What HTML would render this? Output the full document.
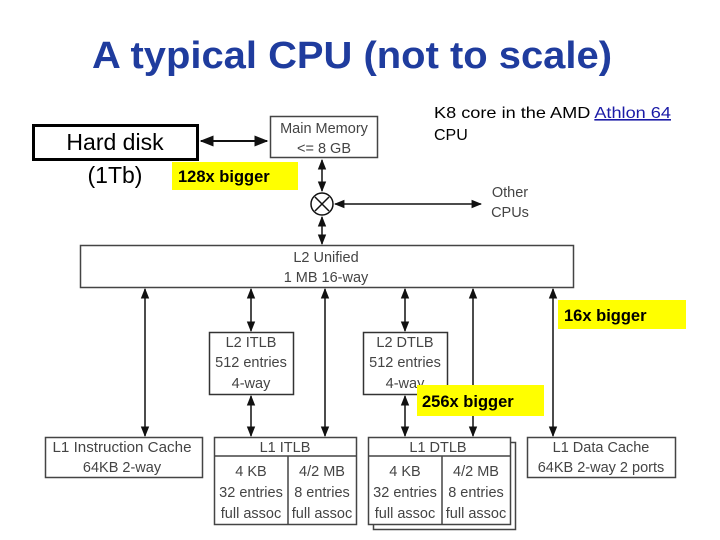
<!DOCTYPE html>
<html><head><meta charset="utf-8"><style>
html,body{margin:0;padding:0;background:#fff;}
svg{display:block;}
.g{font-family:"Liberation Sans",sans-serif;font-size:14.5px;fill:#444;text-anchor:middle;}
</style></head><body>
<svg width="720" height="540" viewBox="0 0 720 540" xmlns="http://www.w3.org/2000/svg">
<defs>
<marker id="a" viewBox="0 0 10 10" refX="9" refY="5" markerWidth="7" markerHeight="7" orient="auto-start-reverse"><path d="M0,1 L10,5 L0,9 z" fill="#111"/></marker>
</defs>
<text x="92" y="68" font-family="Liberation Sans,sans-serif" font-size="38" font-weight="bold" fill="#1f3c9e" textLength="520" lengthAdjust="spacingAndGlyphs">A typical CPU (not to scale)</text>

<rect x="33.5" y="125.5" width="164" height="34" fill="#fff" stroke="#000" stroke-width="3"/>
<text x="115" y="150" font-family="Liberation Sans,sans-serif" font-size="23" text-anchor="middle">Hard disk</text>
<text x="115" y="183" font-family="Liberation Sans,sans-serif" font-size="23" text-anchor="middle">(1Tb)</text>
<line x1="201" y1="141" x2="267" y2="141" stroke="#111" stroke-width="2" marker-start="url(#a)" marker-end="url(#a)"/>

<rect x="270.5" y="116.5" width="107" height="41" fill="#fff" stroke="#444" stroke-width="1.5"/>
<text class="g" x="324" y="133">Main Memory</text>
<text class="g" x="324" y="153">&lt;= 8 GB</text>
<rect x="172" y="162" width="126" height="28" fill="#ffff00"/>
<text x="178" y="182" font-family="Liberation Sans,sans-serif" font-size="16.5" font-weight="bold">128x bigger</text>

<text x="434" y="118" font-family="Liberation Sans,sans-serif" font-size="16" textLength="237" lengthAdjust="spacingAndGlyphs">K8 core in the AMD <tspan fill="#1a1aa6" text-decoration="underline">Athlon 64</tspan></text>
<text x="434" y="140" font-family="Liberation Sans,sans-serif" font-size="16">CPU</text>

<line x1="322" y1="160" x2="322" y2="191" stroke="#111" stroke-width="1.5" marker-start="url(#a)" marker-end="url(#a)"/>
<circle cx="322" cy="204" r="11" fill="#fff" stroke="#111" stroke-width="1.5"/>
<path d="M315,197 L329,211 M329,197 L315,211" stroke="#111" stroke-width="1.5"/>
<line x1="335" y1="204" x2="481" y2="204" stroke="#111" stroke-width="1.5" marker-start="url(#a)" marker-end="url(#a)"/>
<text class="g" x="510" y="197">Other</text>
<text class="g" x="510" y="217">CPUs</text>
<line x1="322" y1="217" x2="322" y2="244" stroke="#111" stroke-width="1.5" marker-start="url(#a)" marker-end="url(#a)"/>

<rect x="80.5" y="245.5" width="493" height="42" fill="#fff" stroke="#444" stroke-width="1.5"/>
<text class="g" x="326" y="262">L2 Unified</text>
<text class="g" x="326" y="282">1 MB 16-way</text>

<g stroke="#111" stroke-width="1.5">
<line x1="145" y1="289" x2="145" y2="436" marker-start="url(#a)" marker-end="url(#a)"/>
<line x1="251" y1="289" x2="251" y2="331" marker-start="url(#a)" marker-end="url(#a)"/>
<line x1="251" y1="396" x2="251" y2="436" marker-start="url(#a)" marker-end="url(#a)"/>
<line x1="325" y1="289" x2="325" y2="436" marker-start="url(#a)" marker-end="url(#a)"/>
<line x1="405" y1="289" x2="405" y2="331" marker-start="url(#a)" marker-end="url(#a)"/>
<line x1="405" y1="396" x2="405" y2="436" marker-start="url(#a)" marker-end="url(#a)"/>
<line x1="473" y1="289" x2="473" y2="436" marker-start="url(#a)" marker-end="url(#a)"/>
<line x1="553" y1="289" x2="553" y2="436" marker-start="url(#a)" marker-end="url(#a)"/>
</g>

<rect x="558" y="300" width="128" height="29" fill="#ffff00"/>
<text x="564" y="321" font-family="Liberation Sans,sans-serif" font-size="16.5" font-weight="bold">16x bigger</text>

<rect x="209.5" y="332.5" width="84" height="62" fill="#fff" stroke="#333" stroke-width="1.5"/>
<text class="g" x="251" y="347">L2 ITLB</text>
<text class="g" x="251" y="367">512 entries</text>
<text class="g" x="251" y="388">4-way</text>
<rect x="363.5" y="332.5" width="84" height="62" fill="#fff" stroke="#333" stroke-width="1.5"/>
<text class="g" x="405" y="347">L2 DTLB</text>
<text class="g" x="405" y="367">512 entries</text>
<text class="g" x="405" y="388">4-way</text>

<rect x="417" y="385" width="127" height="31" fill="#ffff00"/>
<text x="422" y="407" font-family="Liberation Sans,sans-serif" font-size="16.5" font-weight="bold">256x bigger</text>

<rect x="45.5" y="437.5" width="157" height="40" fill="#fff" stroke="#444" stroke-width="1.5"/>
<text class="g" x="122" y="452" textLength="139" lengthAdjust="spacingAndGlyphs">L1 Instruction Cache</text>
<text class="g" x="122" y="472">64KB 2-way</text>

<rect x="214.5" y="437.5" width="142" height="87" fill="#fff" stroke="#444" stroke-width="1.5"/>
<line x1="214" y1="456" x2="357" y2="456" stroke="#444" stroke-width="1.5"/>
<line x1="288" y1="456" x2="288" y2="525" stroke="#444" stroke-width="1.5"/>
<text class="g" x="285" y="452">L1 ITLB</text>
<text class="g" x="251" y="476">4 KB</text><text class="g" x="251" y="497">32 entries</text><text class="g" x="251" y="518">full assoc</text>
<text class="g" x="322" y="476">4/2 MB</text><text class="g" x="322" y="497">8 entries</text><text class="g" x="322" y="518">full assoc</text>

<rect x="373.5" y="442.5" width="142" height="87" fill="#fff" stroke="#444" stroke-width="1.5"/>
<rect x="368.5" y="437.5" width="142" height="87" fill="#fff" stroke="#444" stroke-width="1.5"/>
<line x1="368" y1="456" x2="511" y2="456" stroke="#444" stroke-width="1.5"/>
<line x1="442" y1="456" x2="442" y2="525" stroke="#444" stroke-width="1.5"/>
<text class="g" x="438" y="452">L1 DTLB</text>
<text class="g" x="405" y="476">4 KB</text><text class="g" x="405" y="497">32 entries</text><text class="g" x="405" y="518">full assoc</text>
<text class="g" x="476" y="476">4/2 MB</text><text class="g" x="476" y="497">8 entries</text><text class="g" x="476" y="518">full assoc</text>

<rect x="527.5" y="437.5" width="148" height="40" fill="#fff" stroke="#444" stroke-width="1.5"/>
<text class="g" x="601" y="452">L1 Data Cache</text>
<text class="g" x="601" y="472">64KB 2-way 2 ports</text>
</svg>
</body></html>
